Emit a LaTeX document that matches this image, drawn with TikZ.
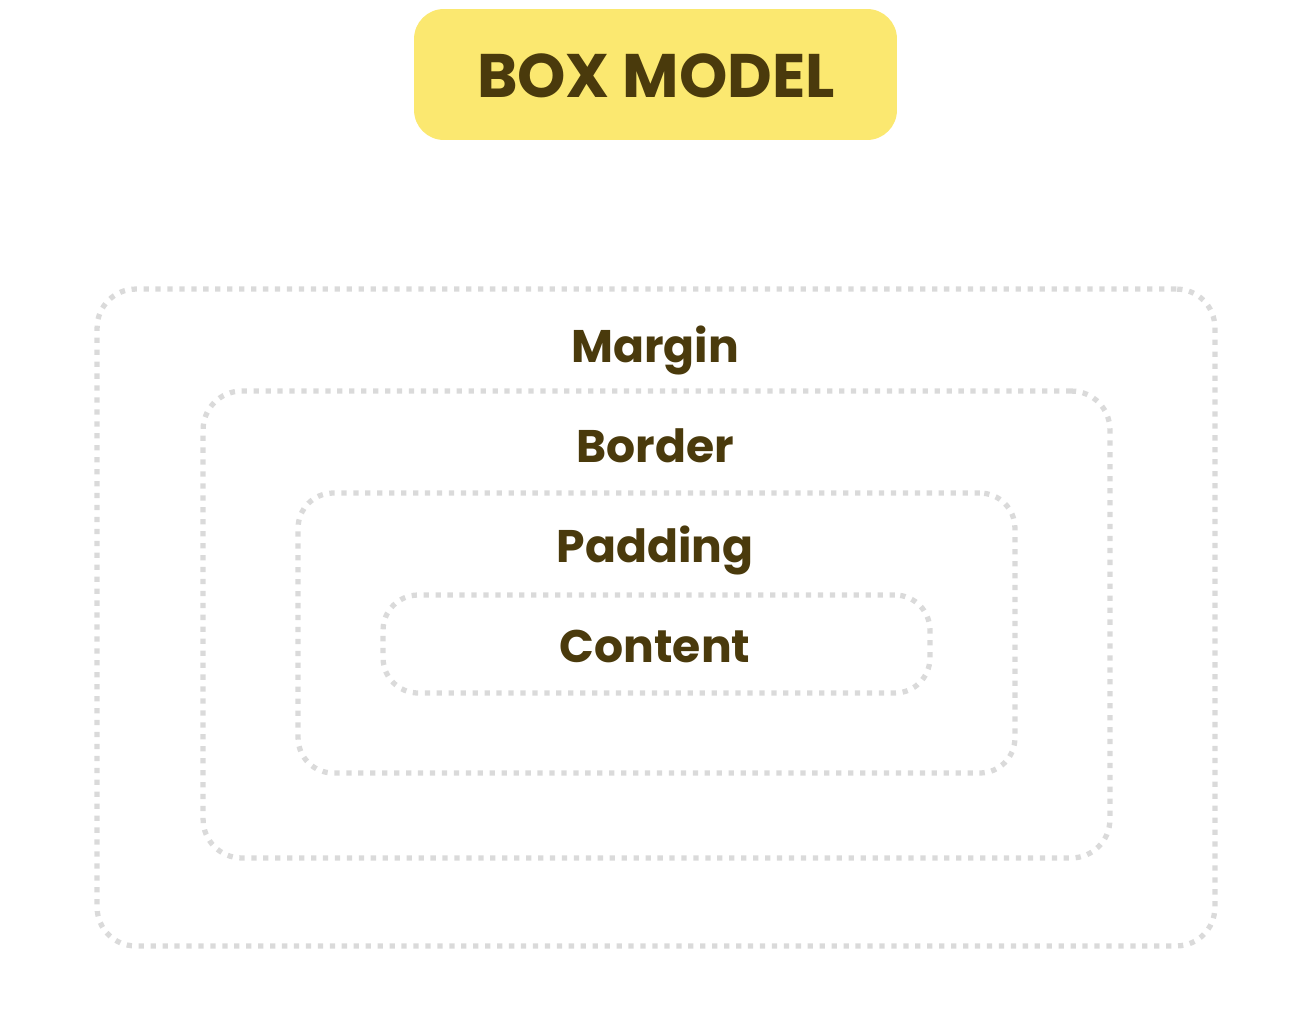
\documentclass[tikz,border=0pt]{standalone}
\usepackage{fontspec}
\setmainfont{Poppins}[BoldFont={* Bold}]
\usetikzlibrary{positioning}
\definecolor{boxtext}{HTML}{4A3A0C}
\definecolor{boxyellow}{HTML}{FBE870}
\definecolor{dotgray}{HTML}{DADADA}

\begin{document}
\begin{tikzpicture}[x=0.02cm, y=-0.02cm,
    layer/.style={draw=dotgray, line width=3pt, dash pattern=on 3pt off 3.8pt, rounded corners=22pt, inner sep=0pt},
    tag/.style={anchor=base, text=boxtext, font=\fontsize{26}{28}\selectfont\bfseries}]
        \useasboundingbox (0, 0) rectangle (1310, 1014);
        \node at (655.5, 74.5) (title) [fill=boxyellow, rounded corners=17pt, minimum width=9.66cm, minimum height=2.62cm] {};
        \node at (656, 97) (title_t) [anchor=base, text=boxtext, font=\fontsize{35}{38}\selectfont\bfseries] {BOX MODEL};

        \node at (656, 617.5) (margin) [layer, minimum width=22.36cm, minimum height=13.14cm] {};
        \node at (656.5, 624.5) (border) [layer, minimum width=18.14cm, minimum height=9.34cm] {};
        \node at (656.5, 633) (padding) [layer, rounded corners=20pt, minimum width=14.34cm, minimum height=5.6cm] {};
        \node at (656.5, 644) (content) [layer, rounded corners=20pt, minimum width=10.94cm, minimum height=1.96cm] {};

        \node at (655, 362) (margin_t) [tag] {Margin};
        \node at (655, 462) (border_t) [tag] {Border};
        \node at (655, 562) (padding_t) [tag] {Padding};
        \node at (655, 662) (content_t) [tag] {Content};
\end{tikzpicture}
\end{document}
